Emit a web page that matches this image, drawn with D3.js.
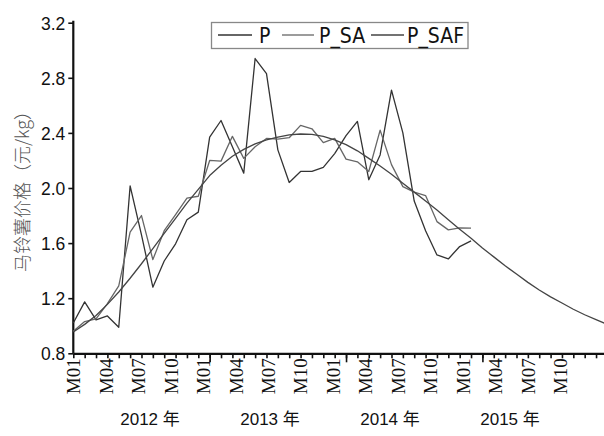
<!DOCTYPE html>
<html>
<head>
<meta charset="utf-8">
<script src="https://cdn.jsdelivr.net/npm/d3@7"></script>
<style>
  body { margin: 0; background: #fff; }
  svg { display: block; }
</style>
</head>
<body>
<svg id="chart" width="604" height="436"></svg>
<script>
// Monthly potato price, 2012-01 .. 2014-12 (raw and seasonally adjusted)
const P = [1.02, 1.173, 1.042, 1.071, 0.989, 2.015, 1.66, 1.28, 1.47, 1.595, 1.77, 1.825,
           2.37, 2.49, 2.30, 2.108, 2.94, 2.83, 2.277, 2.04, 2.12, 2.12, 2.15, 2.25,
           2.38, 2.483, 2.06, 2.24, 2.71, 2.40, 1.905, 1.69, 1.514, 1.485, 1.575, 1.616];
const P_SA = [0.96, 1.03, 1.05, 1.16, 1.29, 1.68, 1.80, 1.48, 1.69, 1.806, 1.927, 1.94,
              2.20, 2.195, 2.375, 2.215, 2.30, 2.36, 2.355, 2.365, 2.455, 2.43, 2.33, 2.36,
              2.21, 2.19, 2.12, 2.42, 2.17, 2.01, 1.97, 1.945, 1.756, 1.696, 1.71, 1.708];
// Smoothed trend with forecast through 2015-12
const P_SAF = [0.955, 1.01, 1.075, 1.155, 1.245, 1.345, 1.45, 1.56, 1.67, 1.78, 1.89, 1.99,
               2.09, 2.165, 2.23, 2.28, 2.32, 2.35, 2.37, 2.385, 2.392, 2.39, 2.375, 2.35,
               2.315, 2.27, 2.215, 2.16, 2.10, 2.035, 1.97, 1.905, 1.84, 1.77, 1.70, 1.635,
               1.565, 1.50, 1.435, 1.375, 1.315, 1.26, 1.21, 1.165, 1.12, 1.08, 1.045, 1.01];

const yTicks = [0.8, 1.2, 1.6, 2.0, 2.4, 2.8, 3.2];
const monthLabels = ["M01", "M04", "M07", "M10", "M01", "M04", "M07", "M10",
                     "M01", "M04", "M07", "M10", "M01", "M04", "M07", "M10"];
const yearLabels = ["2012 年", "2013 年", "2014 年", "2015 年"];
const seriesNames = ["P", "P_SA", "P_SAF"];
const seriesColors = ["#333", "#666", "#444"];

const svg = d3.select("#chart");

const x = d3.scaleLinear().domain([0, 46.7]).range([73.3, 604]);
const y = d3.scaleLinear().domain([0.8, 3.2]).range([353.3, 22.7]);

// month ticks along the time axis
const monthIdx = d3.range(0, 47);
const xMinor = svg.append("g")
  .attr("transform", `translate(0,${y(0.8)})`)
  .call(d3.axisBottom(x).tickValues(monthIdx).tickSize(5).tickSizeOuter(0).tickFormat(""));
xMinor.select(".domain").attr("stroke", "#111").attr("stroke-width", 2.2);
xMinor.selectAll(".tick line").attr("stroke", "#111").attr("stroke-width", 1.6);

const xMajor = svg.append("g")
  .attr("transform", `translate(0,${y(0.8)})`)
  .call(d3.axisBottom(x).tickValues([12, 24, 36]).tickSize(9).tickSizeOuter(0).tickFormat(""));
xMajor.select(".domain").remove();
xMajor.selectAll(".tick line").attr("stroke", "#111").attr("stroke-width", 1.6);

// rotated month labels
const xLab = d3.scalePoint().domain(d3.range(monthLabels.length)).range([73.3, 560]);
const labAxis = svg.append("g")
  .attr("transform", `translate(0,${y(0.8) + 5})`)
  .call(d3.axisBottom(xLab).tickSize(0).tickFormat(i => monthLabels[i]));
labAxis.select(".domain").remove();
labAxis.selectAll(".tick text")
  .attr("transform", "rotate(-90)")
  .attr("x", 0).attr("y", 0)
  .attr("dy", "0.34em")
  .attr("text-anchor", "end")
  .attr("font-family", "'Liberation Serif', 'Times New Roman', serif")
  .attr("font-size", 19)
  .attr("fill", "#111");

// year labels
const xYear = d3.scalePoint().domain(yearLabels).range([150, 510]);
svg.append("g").selectAll("text").data(yearLabels).join("text")
  .attr("x", d => xYear(d)).attr("y", 425)
  .attr("text-anchor", "middle")
  .attr("font-family", "'Liberation Sans', Arial, 'Noto Sans CJK SC', sans-serif")
  .attr("font-size", 17)
  .attr("fill", "#111")
  .text(d => d);

// value axis
const yAx = svg.append("g")
  .attr("transform", `translate(${x(0)},0)`)
  .call(d3.axisLeft(y).tickValues(yTicks).tickSize(5).tickSizeOuter(0).tickFormat(d3.format(".1f")));
yAx.select(".domain").attr("stroke", "#111").attr("stroke-width", 2.2)
  .attr("d", `M0,${y(3.2) - 2}V${y(0.8)}`);
yAx.selectAll(".tick line").attr("stroke", "#111").attr("stroke-width", 1.6);
yAx.selectAll(".tick text")
  .attr("x", -8).attr("dy", "0.36em")
  .attr("font-family", "'Liberation Sans', Arial, sans-serif")
  .attr("font-size", 17.5)
  .attr("fill", "#111");

// value axis title
svg.append("text")
  .attr("transform", `translate(21,187) rotate(-90)`)
  .attr("text-anchor", "middle")
  .attr("dominant-baseline", "central")
  .attr("font-family", "'Noto Sans CJK SC', sans-serif")
  .attr("font-size", 18)
  .attr("font-weight", 300)
  .attr("fill", "#555")
  .text("马铃薯价格（元/kg）");

// series lines
const line = d3.line().x((d, i) => x(i)).y(d => y(d));
[P, P_SA, P_SAF].forEach((s, k) => {
  svg.append("path")
    .datum(s)
    .attr("fill", "none")
    .attr("stroke", seriesColors[k])
    .attr("stroke-width", 1.3)
    .attr("stroke-linejoin", "round")
    .attr("d", line);
});

// legend
const legend = svg.append("g");
legend.append("rect")
  .attr("x", 211.5).attr("y", 22.5).attr("width", 256.5).attr("height", 26)
  .attr("fill", "#fff").attr("stroke", "#888").attr("stroke-width", 1.3);
const legItems = [
  { x1: 218, x2: 252, tx: 259 },
  { x1: 282, x2: 314, tx: 319 },
  { x1: 371, x2: 404, tx: 407 }
];
legItems.forEach((it, k) => {
  legend.append("line")
    .attr("x1", it.x1).attr("x2", it.x2).attr("y1", 35).attr("y2", 35)
    .attr("stroke", seriesColors[k]).attr("stroke-width", 1.3);
  legend.append("text")
    .attr("x", it.tx).attr("y", 42.5)
    .attr("font-family", "'DejaVu Sans Condensed', 'DejaVu Sans', sans-serif")
    .style("font-stretch", "condensed")
    .attr("font-size", 21)
    .attr("fill", "#111")
    .text(seriesNames[k]);
});
</script>
</body>
</html>
